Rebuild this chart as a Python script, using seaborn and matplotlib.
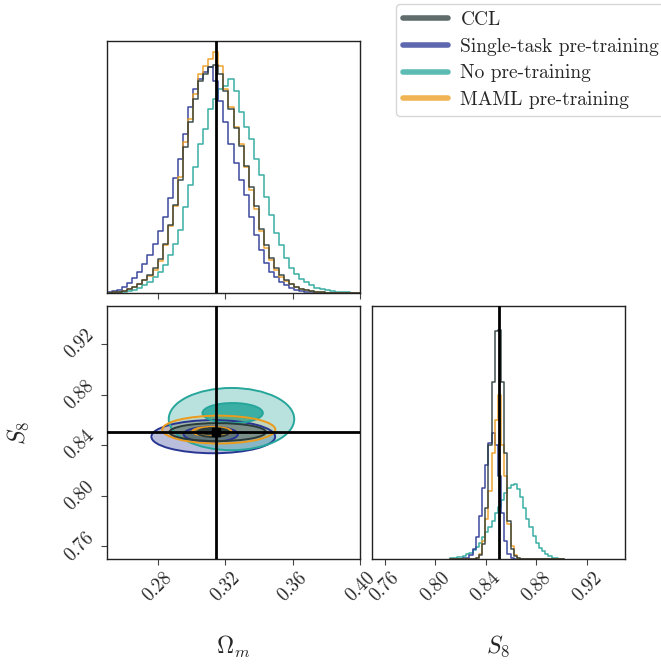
import numpy as np
import pandas as pd
import matplotlib
matplotlib.use("Agg")
import matplotlib.pyplot as plt
import seaborn as sns
from matplotlib.patches import Ellipse
from matplotlib.lines import Line2D

# ---------------- data ----------------
series = ["CCL", "Single-task pre-training", "No pre-training", "MAML pre-training"]
colors = ["#2b3b3b", "#283593", "#26a69a", "#eb9b1c"]

truth_om = 0.3145
truth_s8 = 0.8505

# Omega_m marginal histograms (bins of width 0.003 from 0.250 to 0.400), heights as fraction of panel
om_bin_start, om_bin_width, om_nbins = 0.250, 0.003, 50
om_hist_ccl = [0.001, 0.002, 0.004, 0.008, 0.015, 0.024, 0.036, 0.052, 0.072, 0.098,
               0.135, 0.195, 0.270, 0.350, 0.450, 0.580, 0.680, 0.770, 0.840, 0.870,
               0.895, 0.905, 0.870, 0.800, 0.730, 0.655, 0.585, 0.505, 0.420, 0.345,
               0.255, 0.190, 0.140, 0.100, 0.072, 0.052, 0.036, 0.025, 0.017, 0.011,
               0.007, 0.004, 0.002, 0.001, 0.0, 0.0, 0.0, 0.0, 0.0, 0.0]
om_hist_single = [0.003, 0.006, 0.012, 0.022, 0.038, 0.058, 0.085, 0.115, 0.150, 0.195,
                  0.245, 0.300, 0.375, 0.455, 0.530, 0.630, 0.740, 0.810, 0.850, 0.875,
                  0.895, 0.840, 0.760, 0.680, 0.590, 0.515, 0.450, 0.390, 0.300, 0.230,
                  0.170, 0.120, 0.085, 0.062, 0.045, 0.030, 0.019, 0.011, 0.006, 0.003,
                  0.002, 0.0, 0.0, 0.0, 0.0, 0.0, 0.0, 0.0, 0.0, 0.0]
om_hist_none = [0.0, 0.001, 0.002, 0.004, 0.007, 0.012, 0.020, 0.030, 0.045, 0.065,
                0.085, 0.110, 0.150, 0.195, 0.250, 0.340, 0.430, 0.500, 0.590, 0.650,
                0.730, 0.770, 0.810, 0.820, 0.850, 0.800, 0.720, 0.660, 0.610, 0.530,
                0.470, 0.380, 0.310, 0.240, 0.190, 0.140, 0.100, 0.075, 0.055, 0.042,
                0.030, 0.021, 0.015, 0.010, 0.007, 0.005, 0.003, 0.002, 0.001, 0.0]
om_hist_maml = [0.001, 0.002, 0.004, 0.008, 0.014, 0.022, 0.035, 0.050, 0.068, 0.090,
                0.125, 0.190, 0.265, 0.345, 0.460, 0.600, 0.690, 0.790, 0.870, 0.900,
                0.930, 0.955, 0.900, 0.810, 0.740, 0.660, 0.590, 0.500, 0.410, 0.335,
                0.245, 0.180, 0.130, 0.092, 0.065, 0.048, 0.034, 0.024, 0.016, 0.011,
                0.007, 0.004, 0.002, 0.001, 0.0, 0.0, 0.0, 0.0, 0.0, 0.0]

# S8 marginal histograms (bins of width 0.0025 from 0.812 to 0.902)
s8_bin_start, s8_bin_width, s8_nbins = 0.812, 0.0025, 36
s8_hist_ccl = [0.0, 0.0, 0.0, 0.0, 0.0, 0.0, 0.0, 0.001, 0.004, 0.015,
               0.060, 0.200, 0.450, 0.700, 0.900, 0.905, 0.700, 0.420, 0.150, 0.040,
               0.010, 0.002, 0.0, 0.0, 0.0, 0.0, 0.0, 0.0, 0.0, 0.0,
               0.0, 0.0, 0.0, 0.0, 0.0, 0.0]
s8_hist_single = [0.0, 0.0, 0.0, 0.0, 0.002, 0.005, 0.015, 0.040, 0.085, 0.170,
                  0.280, 0.370, 0.460, 0.500, 0.450, 0.330, 0.180, 0.070, 0.020, 0.005,
                  0.001, 0.0, 0.0, 0.0, 0.0, 0.0, 0.0, 0.0, 0.0, 0.0,
                  0.0, 0.0, 0.0, 0.0, 0.0, 0.0]
s8_hist_none = [0.002, 0.004, 0.006, 0.009, 0.013, 0.018, 0.025, 0.035, 0.048, 0.065,
                0.085, 0.105, 0.125, 0.150, 0.180, 0.205, 0.235, 0.260, 0.280, 0.292,
                0.295, 0.275, 0.245, 0.200, 0.160, 0.125, 0.090, 0.065, 0.045, 0.030,
                0.018, 0.010, 0.005, 0.002, 0.001, 0.0]
s8_hist_maml = [0.0, 0.0, 0.0, 0.0, 0.0, 0.0, 0.0, 0.001, 0.005, 0.020,
                0.070, 0.160, 0.270, 0.420, 0.550, 0.650, 0.450, 0.330, 0.140, 0.050,
                0.015, 0.004, 0.0, 0.0, 0.0, 0.0, 0.0, 0.0, 0.0, 0.0,
                0.0, 0.0, 0.0, 0.0, 0.0, 0.0]

# 2D credible regions: centres and half-widths (outer / inner contour)
c_om_outer = [0.3156, 0.3130, 0.3238, 0.3163]
c_s8_outer = [0.8503, 0.8467, 0.8606, 0.8523]
hw_om_outer = [0.0286, 0.0367, 0.0372, 0.0335]
hw_s8_outer = [0.0071, 0.0131, 0.0246, 0.0110]
c_om_inner = [0.3130, 0.3115, 0.3245, 0.3122]
c_s8_inner = [0.8500, 0.8486, 0.8654, 0.8508]
hw_om_inner = [0.0095, 0.0161, 0.0179, 0.0116]
hw_s8_inner = [0.0035, 0.0060, 0.0079, 0.0037]

om_ticks = [0.28, 0.32, 0.36, 0.40]
s8_ticks = [0.76, 0.80, 0.84, 0.88, 0.92]
om_lim = (0.25, 0.40)
s8_lim = (0.75, 0.95)

# ---------------- style ----------------
sns.set_style("ticks")
plt.rcParams["font.family"] = ["serif"]
plt.rcParams["font.serif"] = ["cmr10", "DejaVu Serif"]
plt.rcParams["mathtext.fontset"] = "cm"
plt.rcParams["axes.formatter.use_mathtext"] = True
plt.rcParams["axes.unicode_minus"] = False

W, H = 661, 664
fig = plt.figure(figsize=(W / 100, H / 100), dpi=100)

def px_axes(x0, y0, x1, y1):
    return fig.add_axes([x0 / W, 1 - y1 / H, (x1 - x0) / W, (y1 - y0) / H])

ax_top = px_axes(107, 41, 360, 293)
ax_2d = px_axes(107, 306, 360, 559)
ax_right = px_axes(372, 306, 625, 559)

om_hists = [om_hist_ccl, om_hist_single, om_hist_none, om_hist_maml]
s8_hists = [s8_hist_ccl, s8_hist_single, s8_hist_none, s8_hist_maml]
om_edges = [float(v) for v in om_bin_start + om_bin_width * np.arange(om_nbins + 1)]
s8_edges = [float(v) for v in s8_bin_start + s8_bin_width * np.arange(s8_nbins + 1)]
om_centers = [0.5 * (a + b) for a, b in zip(om_edges[:-1], om_edges[1:])]
s8_centers = [0.5 * (a + b) for a, b in zip(s8_edges[:-1], s8_edges[1:])]

draw_order = [2, 1, 3, 0]
for i in draw_order:
    d_om = pd.DataFrame({"x": om_centers, "w": om_hists[i]})
    d_s8 = pd.DataFrame({"x": s8_centers, "w": s8_hists[i]})
    sns.histplot(data=d_om, x="x", weights="w", bins=om_edges, element="step",
                 fill=False, color=colors[i], linewidth=1.1, alpha=0.9, ax=ax_top)
    sns.histplot(data=d_s8, x="x", weights="w", bins=s8_edges, element="step",
                 fill=False, color=colors[i], linewidth=1.1, alpha=0.9, ax=ax_right)

# 2D panel: filled regions
outer_alpha = [0.28, 0.32, 0.32, 0.18]
inner_alpha = [0.95, 0.45, 0.85, 0.6]
fill_order = [1, 2, 3, 0]
for i in fill_order:
    ax_2d.add_patch(Ellipse((c_om_outer[i], c_s8_outer[i]), 2 * hw_om_outer[i], 2 * hw_s8_outer[i],
                            facecolor=colors[i], alpha=outer_alpha[i], edgecolor="none", zorder=2))
    ax_2d.add_patch(Ellipse((c_om_inner[i], c_s8_inner[i]), 2 * hw_om_inner[i], 2 * hw_s8_inner[i],
                            facecolor=colors[i], alpha=inner_alpha[i], edgecolor="none", zorder=2))
for i in fill_order:
    ax_2d.add_patch(Ellipse((c_om_outer[i], c_s8_outer[i]), 2 * hw_om_outer[i], 2 * hw_s8_outer[i],
                            facecolor="none", edgecolor=colors[i], lw=1.4, zorder=3))
    ax_2d.add_patch(Ellipse((c_om_inner[i], c_s8_inner[i]), 2 * hw_om_inner[i], 2 * hw_s8_inner[i],
                            facecolor="none", edgecolor=colors[i], lw=1.4, zorder=3))

# truths
ax_top.axvline(truth_om, color="black", lw=2, zorder=5)
ax_2d.axvline(truth_om, color="black", lw=2, zorder=5)
ax_2d.axhline(truth_s8, color="black", lw=2, zorder=5)
ax_2d.plot([truth_om], [truth_s8], marker="s", color="black", ms=6, zorder=6)
ax_right.axvline(truth_s8, color="black", lw=2, zorder=5)

# axes formatting
for ax in (ax_top, ax_2d, ax_right):
    for sp in ax.spines.values():
        sp.set_visible(True)
        sp.set_linewidth(1.0)
        sp.set_color("#222222")
    ax.tick_params(direction="out", length=4, width=0.8, color="#444444", labelsize=13.5, pad=3)
    ax.set_xlabel("")
    ax.set_ylabel("")

ax_top.set_xlim(*om_lim)
ax_top.set_ylim(0, 1)
ax_top.set_xticks(om_ticks)
ax_top.set_xticklabels([])
ax_top.set_yticks([])

ax_2d.set_xlim(*om_lim)
ax_2d.set_ylim(*s8_lim)
ax_2d.set_xticks(om_ticks)
ax_2d.set_yticks(s8_ticks)
ax_2d.set_xticklabels([f"{t:.2f}" for t in om_ticks], rotation=45, ha="center")
ax_2d.set_yticklabels([f"{t:.2f}" for t in s8_ticks], rotation=45, va="center")

ax_right.set_xlim(*s8_lim)
ax_right.set_ylim(0, 1)
ax_right.set_xticks(s8_ticks)
ax_right.set_xticklabels([f"{t:.2f}" for t in s8_ticks], rotation=45, ha="center")
ax_right.set_yticks([])

ax_2d.set_xlabel(r"$\Omega_m$", fontsize=17)
ax_2d.xaxis.set_label_coords(0.5, -0.295)
ax_2d.set_ylabel(r"$S_8$", fontsize=17)
ax_2d.yaxis.set_label_coords(-0.30, 0.5)
ax_right.set_xlabel(r"$S_8$", fontsize=17)
ax_right.xaxis.set_label_coords(0.5, -0.295)

handles = [Line2D([0], [0], color=colors[i], lw=4, alpha=0.75) for i in range(4)]
leg = fig.legend(handles, series, loc="upper right", bbox_to_anchor=(1.012, 0.998),
                 fontsize=14, frameon=True, handlelength=2.3, labelspacing=0.45,
                 borderpad=0.35, handletextpad=0.65, borderaxespad=0.15)
leg.get_frame().set_edgecolor("#cccccc")

fig.savefig("out.png", dpi=100)
